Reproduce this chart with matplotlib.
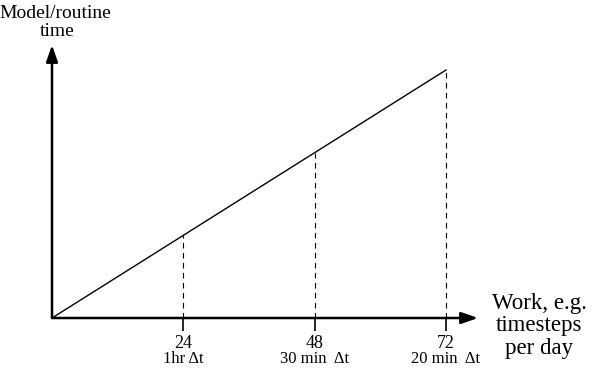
import matplotlib
matplotlib.use('Agg')
import matplotlib.pyplot as plt

plt.rcParams['font.family'] = ['Liberation Serif', 'DejaVu Serif']

# work (timesteps per day) and model time (arbitrary units)
work = [0, 24, 48, 72]
model_time = [0, 1, 2, 3]
tick_vals = [24, 48, 72]
tick_nums = ['24', '48', '72']
tick_desc = ['1hr \u0394t', '30 min  \u0394t', '20 min  \u0394t']

fig = plt.figure(figsize=(6, 3.71), dpi=100)
# axes spans from origin to arrow tips
ax = fig.add_axes([52/600, 53/371, 426/600, 273/371])
ax.set_xlim(0, 72*426/394)
ax.set_ylim(0, 3*273/248)

ax.plot(work, model_time, color='k', lw=1.0)
for x, y in zip(work[1:], model_time[1:]):
    ax.plot([x, x], [0, y], color='k', lw=0.8, ls=(0, (5, 4)))

for s in ax.spines.values():
    s.set_visible(False)

# axes with arrows
ax.annotate('', xy=(1, 0), xytext=(0, 0), xycoords='axes fraction',
            arrowprops=dict(arrowstyle='-|>,head_length=1.0,head_width=0.35',
                            lw=1.8, color='k', shrinkA=0, shrinkB=0))
ax.annotate('', xy=(0, 1), xytext=(0, 0), xycoords='axes fraction',
            arrowprops=dict(arrowstyle='-|>,head_length=1.0,head_width=0.35',
                            lw=1.8, color='k', shrinkA=0, shrinkB=0))

ax.set_xticks(tick_vals)
ax.set_xticklabels(tick_nums, fontsize=13)
ax.set_yticks([])
ax.tick_params(axis='x', direction='out', length=9, width=1.2, pad=3)

for x, d in zip(tick_vals, tick_desc):
    ax.text(x, -0.49, d, ha='center', va='center', fontsize=12)

fig.text(55/600, 1 - 13/371, 'Model/routine', ha='center', va='center', fontsize=14)
fig.text(57/600, 1 - 32/371, 'time', ha='center', va='center', fontsize=14)

fig.text(539/600, 1 - 326/371, 'Work, e.g.\ntimesteps\nper day', ha='center',
         va='center', fontsize=16.5, linespacing=1.08)

fig.savefig('out.png', dpi=100)
